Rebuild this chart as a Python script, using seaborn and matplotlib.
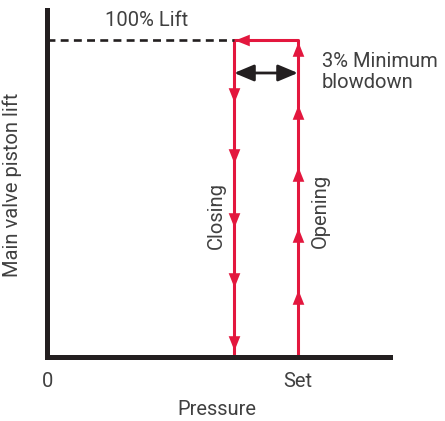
import pandas as pd
import matplotlib.pyplot as plt
import seaborn as sns

# pressure axis (arbitrary units, 0..100) and lift (% of full lift)
pressure_ticks = [0, 73.1]
pressure_tick_labels = ['0', 'Set']
set_pressure = 73.1
closing_pressure = 54.5
full_lift = 100

# path of the valve: opens at set pressure, closes at reduced pressure
path_pressure = [set_pressure, set_pressure, closing_pressure, closing_pressure]
path_lift = [0, full_lift, full_lift, 0]

# arrowhead centres along the path
opening_arrows = [18.8, 38.4, 57.7, 77.3, 97.2]
closing_arrows = [4.3, 24.2, 43.1, 63.3, 82.6]
top_arrow_pressure = 56.8
blowdown_lift = 89.6

red = '#E3173E'
dark = '#231F20'
grey = '#404040'

sns.set_style('white')
plt.rcParams['font.family'] = ['Roboto', 'DejaVu Sans']

fig = plt.figure(figsize=(4.45, 4.21), dpi=100)
ax = fig.add_axes([0.1067, 0.1532, 0.7697, 0.8230])

path = pd.DataFrame({'pressure': path_pressure, 'lift': path_lift})
sns.lineplot(data=path, x='pressure', y='lift', sort=False, estimator=None,
             color=red, lw=2.2, ax=ax)

# dashed line for 100% lift
ax.plot([0, closing_pressure], [full_lift, full_lift], color=dark, lw=1.9,
        dashes=(3.0, 2.0))

down = [(-0.8, 1), (0.8, 1), (0, -1)]
up = [(-0.8, -1), (0.8, -1), (0, 1)]
left = [(1, -0.8), (1, 0.8), (-1, 0)]
sns.scatterplot(x=[set_pressure] * len(opening_arrows), y=opening_arrows,
                marker=up, s=110, color=red, linewidth=0, ax=ax)
sns.scatterplot(x=[closing_pressure] * len(closing_arrows), y=closing_arrows,
                marker=down, s=110, color=red, linewidth=0, ax=ax)
sns.scatterplot(x=[top_arrow_pressure], y=[full_lift],
                marker=left, s=110, color=red, linewidth=0, ax=ax)

# blowdown double arrow
ax.annotate('', xy=(closing_pressure, blowdown_lift),
            xytext=(set_pressure, blowdown_lift),
            arrowprops=dict(arrowstyle='<|-|>,head_length=1.0,head_width=0.42',
                            color=dark, lw=2, shrinkA=0, shrinkB=0,
                            mutation_scale=12))

txt = dict(color=grey, fontsize=14.5, fontweight='normal')
ax.text(28.8, 106.3, '100% Lift', ha='center', va='center', **txt)
ax.text(80.1, 89.9, '3% Minimum\nblowdown', ha='left', va='center',
        linespacing=1.1, **txt)
ax.text(49.2, 44.7, 'Closing', rotation=90, ha='center', va='center', **txt)
ax.text(79.6, 46.0, 'Opening', rotation=90, ha='center', va='center', **txt)

ax.set_xlim(0, 100)
ax.set_ylim(0, 109.5)
ax.set_xticks(pressure_ticks)
ax.set_xticklabels(pressure_tick_labels)
ax.set_yticks([])
ax.tick_params(axis='x', length=0, pad=11, labelsize=14.5, labelcolor=grey)

ax.set_xlabel('Pressure', **txt)
ax.set_ylabel('Main valve piston lift', **txt)
ax.xaxis.set_label_coords(0.495, -0.125)
ax.yaxis.set_label_coords(-0.075, 0.495)

sns.despine(ax=ax)
for side in ['left', 'bottom']:
    ax.spines[side].set_linewidth(3.6)
    ax.spines[side].set_color(dark)

fig.savefig('out.png', dpi=100)
